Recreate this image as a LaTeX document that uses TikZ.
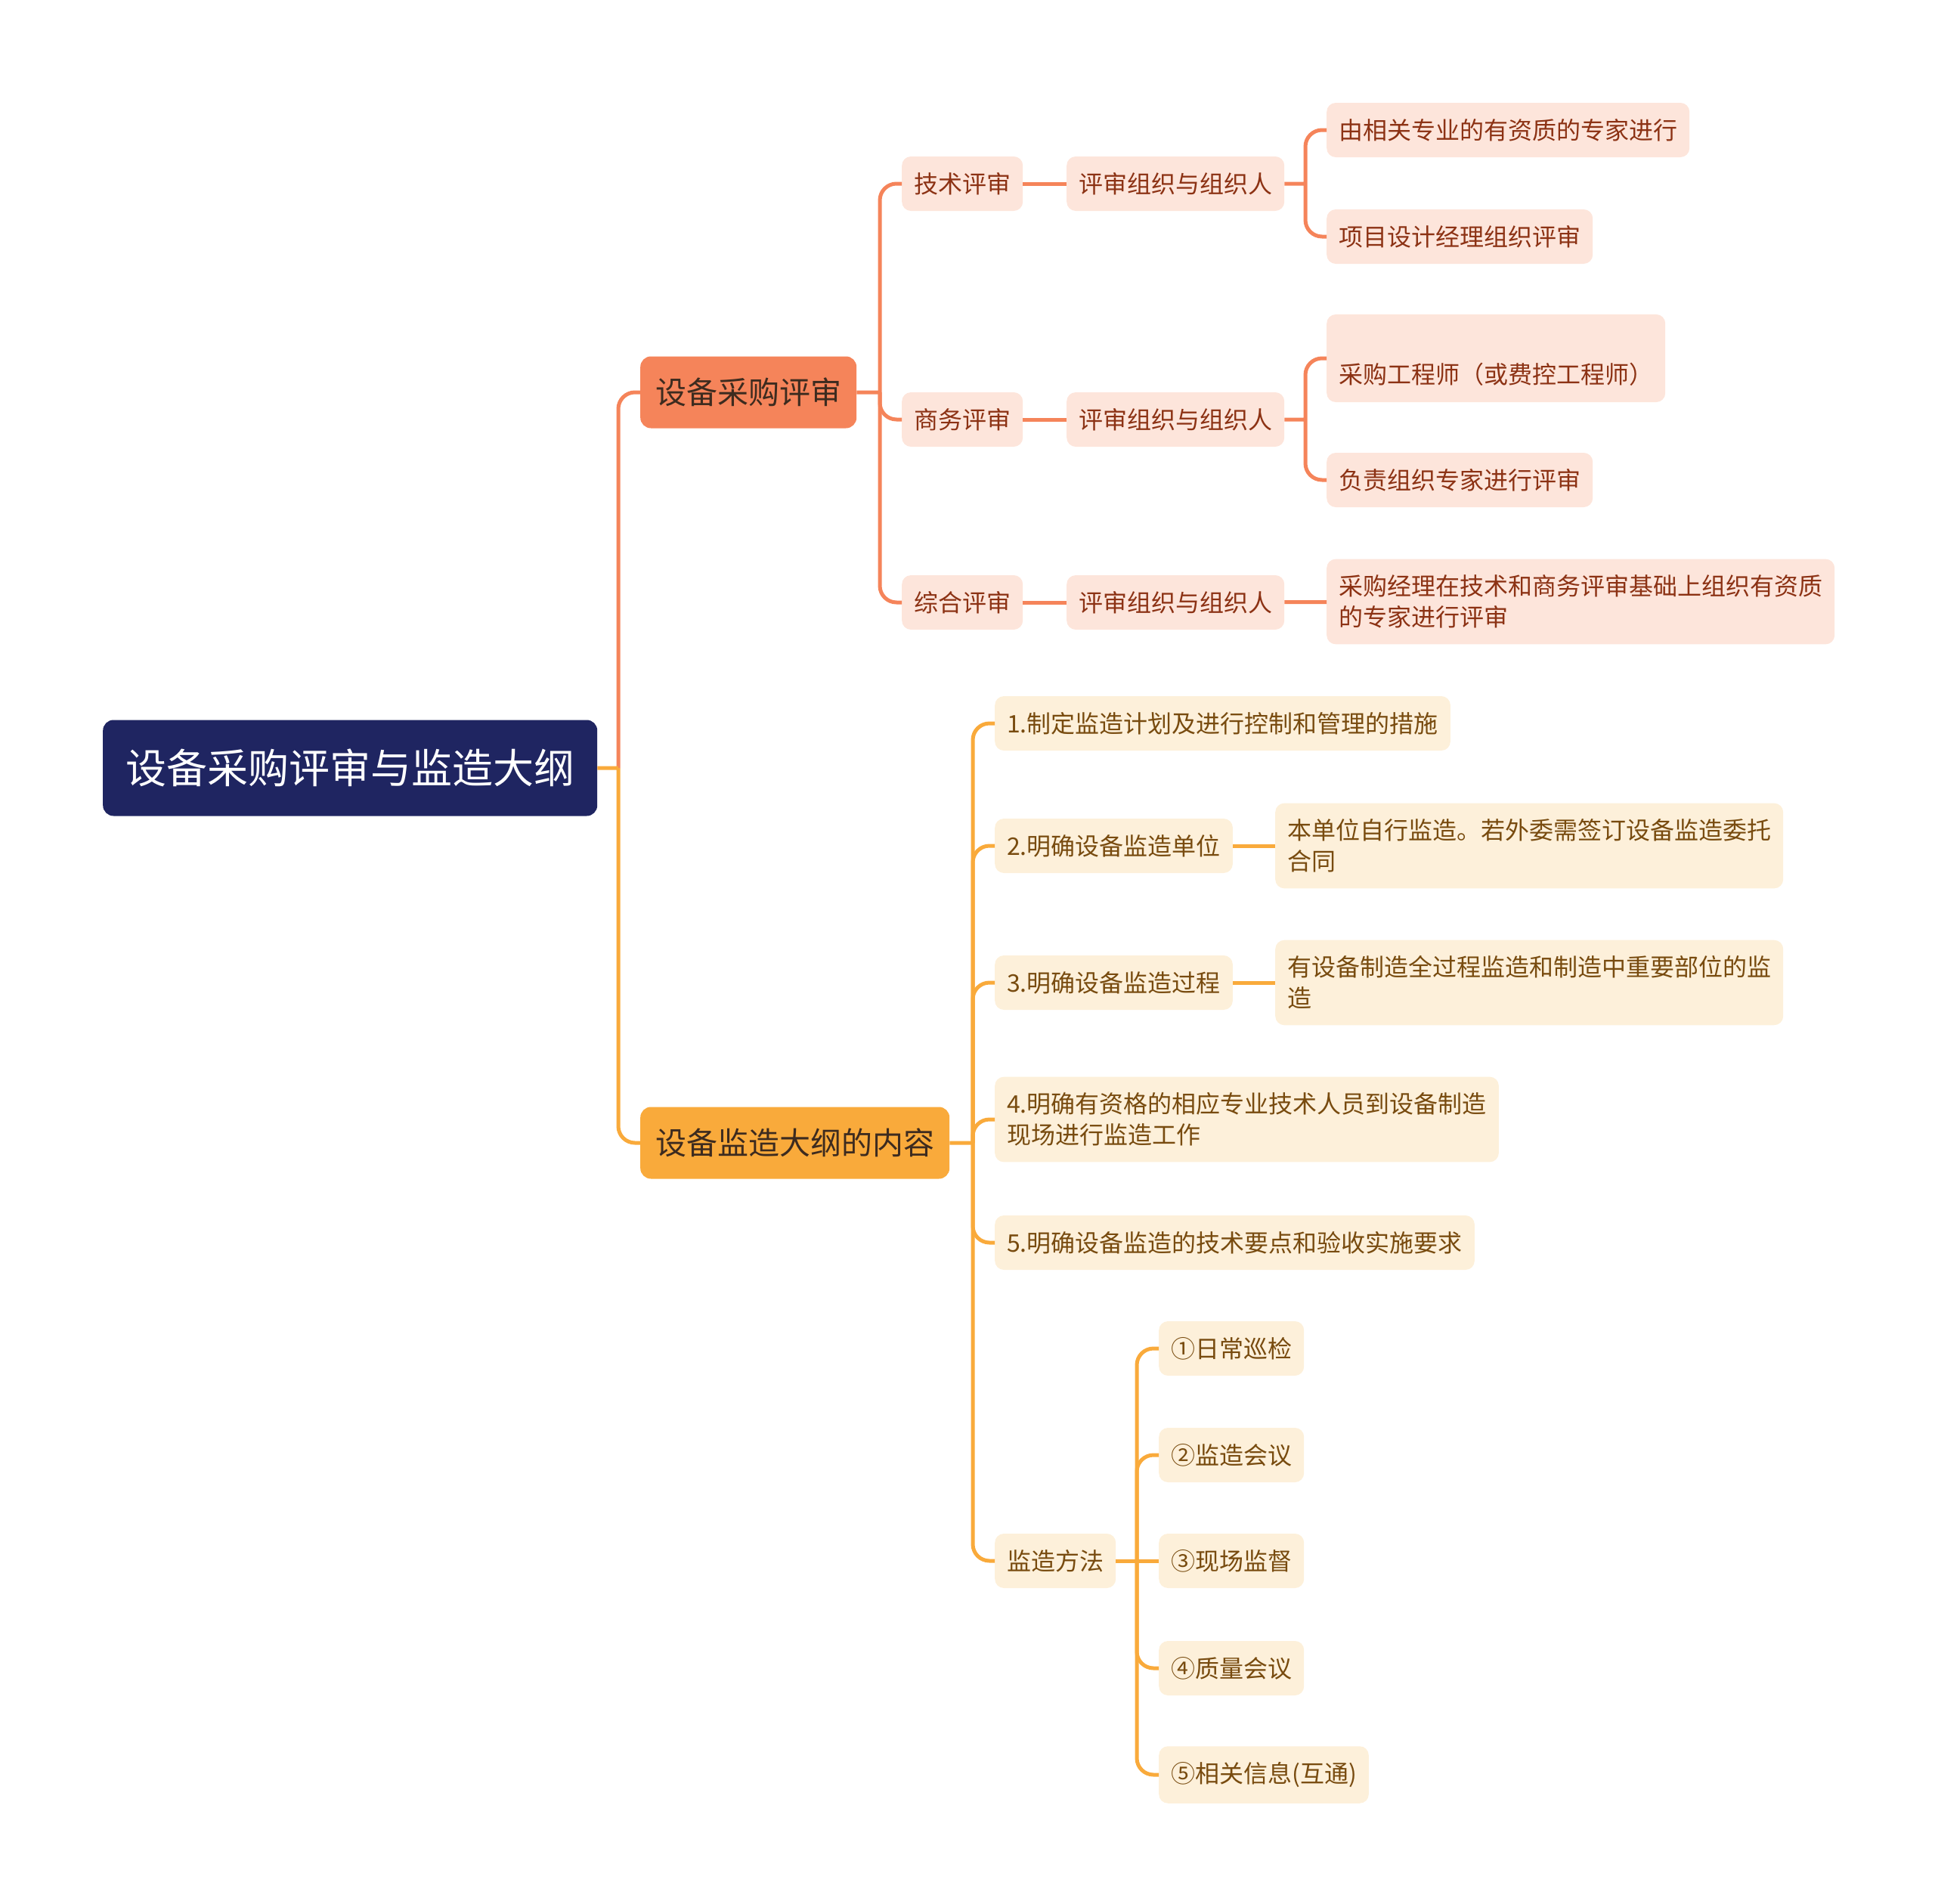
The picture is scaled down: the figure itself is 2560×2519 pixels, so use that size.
\documentclass[tikz,border=0pt]{standalone}
\usepackage{fontspec}
\usepackage{tikz}
\setmainfont{Noto Sans CJK SC}
\definecolor{navy}{HTML}{1F2561}
\definecolor{coral}{HTML}{F5845A}
\definecolor{amber}{HTML}{F9AA3B}
\definecolor{peach}{HTML}{FDE5DB}
\definecolor{cream}{HTML}{FDF0DA}
\definecolor{rust}{HTML}{8C3214}
\definecolor{umber}{HTML}{784B0F}
\definecolor{darkbrown}{HTML}{3D2B1F}

\begin{document}
\begin{tikzpicture}[x=1pt, y=-1pt,
    box/.style={anchor=west, align=left, rounded corners=12pt, inner xsep=16pt,
      inner ysep=21pt, minimum height=72pt, font=\fontsize{32}{41}\selectfont},
    buyleaf/.style={box, fill=peach, text=rust},
    supleaf/.style={box, fill=cream, text=umber},
    topic/.style={anchor=west, rounded corners=14pt, inner xsep=20pt,
      minimum height=95pt, text=darkbrown, font=\fontsize{41}{49}\selectfont},
    buyline/.style={draw=coral, line width=5pt, rounded corners=22pt},
    supline/.style={draw=amber, line width=5pt, rounded corners=22pt}]
  \useasboundingbox (0,0) rectangle (2560,2519);

  \node[anchor=west, fill=navy, text=white, rounded corners=14pt, inner xsep=30pt,
    minimum height=127pt, font=\fontsize{54}{64}\selectfont] (root) at (136,1016) {设备采购评审与监造大纲};
  \node[topic, fill=coral] (buy) at (847,519) {设备采购评审};
  \node[topic, fill=amber] (sup) at (847,1512) {设备监造大纲的内容};

  % purchase review
  \foreach \t/\y/\n in {技术评审/243/tech, 商务评审/555/biz, 综合评审/797/comp}
  {
    \node[buyleaf] (\n) at (1193,\y) {\t};
    \node[buyleaf] (org\n) at (1411,\y) {评审组织与组织人};
    \draw[buyline] (\n) -- (org\n);
  }
  \node[buyleaf] (t1) at (1755,172) {由相关专业的有资质的专家进行};
  \node[buyleaf] (t2) at (1755,313) {项目设计经理组织评审};
  \node[buyleaf, text height=71pt] (b1) at (1755,474) {采购工程师（或费控工程师）};
  \node[buyleaf] (b2) at (1755,635) {负责组织专家进行评审};
  \node[buyleaf] (c1) at (1755,796) {采购经理在技术和商务评审基础上组织有资质\\的专家进行评审};

  % supervision outline
  \node[supleaf] (s1) at (1316,957) {1.制定监造计划及进行控制和管理的措施};
  \node[supleaf] (s2) at (1316,1119) {2.明确设备监造单位};
  \node[supleaf] (s2a) at (1687,1119) {本单位自行监造。若外委需签订设备监造委托\\合同};
  \node[supleaf] (s3) at (1316,1300) {3.明确设备监造过程};
  \node[supleaf] (s3a) at (1687,1300) {有设备制造全过程监造和制造中重要部位的监\\造};
  \node[supleaf] (s4) at (1316,1481) {4.明确有资格的相应专业技术人员到设备制造\\现场进行监造工作};
  \node[supleaf] (s5) at (1316,1644) {5.明确设备监造的技术要点和验收实施要求};
  \node[supleaf] (sm) at (1316,2065) {监造方法};
  \foreach \t/\y [count=\i] in {①日常巡检/1784, ②监造会议/1925, ③现场监督/2065,
      ④质量会议/2207, ⑤相关信息(互通)/2348}
    \node[supleaf] (m\i) at (1533,\y) {\t};

  \coordinate (rj) at (818,1016);
  \coordinate (bj) at (1164,519);
  \coordinate (tj) at (1727,243);
  \coordinate (kj) at (1727,555);
  \coordinate (sj) at (1287,1512);
  \coordinate (mj) at (1504,2065);

  \draw[buyline] (rj) |- (buy.west) (buy.east) -- (bj);
  \draw[supline] (root.east) -- (rj) (rj) |- (sup.west) (sup.east) -- (sj);
  \foreach \n in {tech, biz, comp}
    \draw[buyline] (bj) |- (\n.west);
  \draw[buyline] (orgtech.east) -- (tj) (tj) |- (t1.west) (tj) |- (t2.west);
  \draw[buyline] (orgbiz.east) -- (kj) (kj) |- (b1.west) (kj) |- (b2.west);
  \draw[buyline] (orgcomp) -- (c1);

  \foreach \n in {s1, s2, s3, s4, s5, sm}
    \draw[supline] (sj) |- (\n.west);
  \draw[supline] (s2) -- (s2a) (s3) -- (s3a);
  \draw[supline] (sm.east) -- (mj) (mj) -- (m3.west);
  \foreach \i in {1, 2, 4, 5}
    \draw[supline] (mj) |- (m\i.west);
\end{tikzpicture}
\end{document}
